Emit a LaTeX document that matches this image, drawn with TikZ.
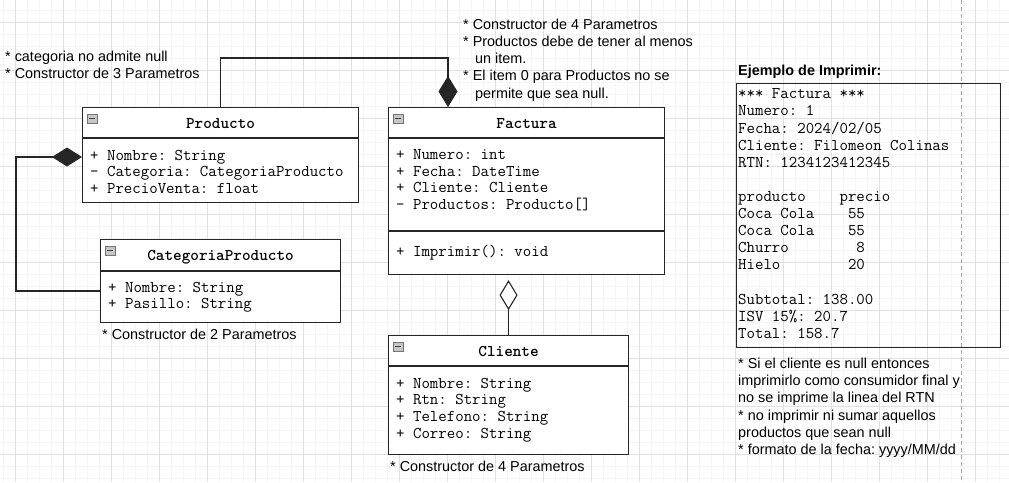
\documentclass[tikz,border=0pt]{standalone}
\usepackage{fontspec}
\setmainfont{Liberation Sans}
\usetikzlibrary{arrows.meta}
\frenchspacing

\begin{document}
\begin{tikzpicture}[x=1pt, y=-1pt,
    umlbox/.style={draw=black!85, line width=1.1pt, fill=white, anchor=north west, inner sep=0pt},
    ctitle/.style={font=\ttfamily\bfseries\fontsize{16.4}{17}\selectfont, anchor=base, inner sep=0pt},
    attr/.style={font=\ttfamily\frenchspacing\fontsize{16.4}{17}\selectfont, anchor=base west, inner sep=0pt},
    note/.style={font=\frenchspacing\fontsize{14.4}{17.3}\selectfont, anchor=base west, inner sep=0pt},
    minbox/.style={draw=black!55, fill=black!22, line width=0.6pt, minimum width=10pt, minimum height=9pt,
      inner sep=0pt, anchor=north west, xshift=5pt, yshift=-7pt,
      path picture={\draw[black!75, line width=1pt] ([xshift=2pt]path picture bounding box.west)
        -- ([xshift=-2pt]path picture bounding box.east);}},
    link/.style={draw=black!85, line width=1.1pt},
  ]
  \useasboundingbox (0,0) rectangle (1009,482);
  % Grid
  \foreach \g in {3,15,...,1009} \draw[black!4, line width=0.6pt] (\g,0) -- (\g,482);
  \foreach \g in {10,22,...,482} \draw[black!4, line width=0.6pt] (0,\g) -- (1009,\g);
  \foreach \g in {15,63,...,1009} \draw[black!12, line width=0.6pt] (\g,0) -- (\g,482);
  \foreach \g in {22,70,...,482} \draw[black!12, line width=0.6pt] (0,\g) -- (1009,\g);
  \draw[black!35, dash pattern=on 4pt off 3pt] (961,0) -- (961,482);

  % Classes
  \node[umlbox, minimum width=276pt, minimum height=95pt] (prod) at (82,107) {};
  \node[umlbox, minimum width=276pt, minimum height=167pt] (fac) at (388,107) {};
  \node[umlbox, minimum width=240pt, minimum height=83pt] (catp) at (100,239) {};
  \node[umlbox, minimum width=240pt, minimum height=119pt] (cli) at (388,335) {};

  \draw[link] (prod.north west) ++(0,31) -- ++(276,0);
  \draw[link] (fac.north west) ++(0,31) -- ++(276,0);
  \draw[link] (fac.north west) ++(0,124) -- ++(276,0);
  \draw[link] (catp.north west) ++(0,32) -- ++(240,0);
  \draw[link] (cli.north west) ++(0,31) -- ++(240,0);

  \node[minbox] (prodm) at (prod.north west) {};
  \node[minbox] (facm) at (fac.north west) {};
  \node[minbox] (catpm) at (catp.north west) {};
  \node[minbox] (clim) at (cli.north west) {};

  \node[ctitle] (prodt) at ([yshift=-21.5pt]prod.north) {Producto};
  \node[ctitle] (fact) at ([yshift=-21.5pt]fac.north) {Factura};
  \node[ctitle] (catpt) at ([yshift=-21pt]catp.north) {CategoriaProducto};
  \node[ctitle] (clit) at ([yshift=-21pt]cli.north) {Cliente};

  % Attributes
  \foreach \lbl [count=\i] in {+ Nombre: String, - Categoria: CategoriaProducto, + PrecioVenta: float}
    \node[attr] (prod-a\i) at (90,{160+16.5*(\i-1)}) {\lbl};
  \foreach \lbl [count=\i] in {+ Numero: int, + Fecha: DateTime, + Cliente: Cliente, - Productos: Producto[]}
    \node[attr] (fac-a\i) at (396,{159.5+16.7*(\i-1)}) {\lbl};
  \node[attr] (fac-m1) at (396,256.5) {+ Imprimir(): void};
  \foreach \lbl [count=\i] in {+ Nombre: String, + Pasillo: String}
    \node[attr] (catp-a\i) at (108,{292+16.5*(\i-1)}) {\lbl};
  \foreach \lbl [count=\i] in {+ Nombre: String, + Rtn: String, + Telefono: String, + Correo: String}
    \node[attr] (cli-a\i) at (396,{388+16.7*(\i-1)}) {\lbl};

  % Connectors
  \coordinate (facin) at ([xshift=60pt]fac.north west);
  \coordinate (prodin) at ([yshift=-50pt]prod.north west);
  \coordinate (catout) at ([yshift=-52pt]catp.north west);
  \draw[link, -{Diamond[length=31pt, width=19pt]}] (prod.north) -- ++(0,-49) -| (facin);
  \draw[link, -{Diamond[length=30pt, width=19pt]}] (catout) -- ++(-84,0) |- (prodin);
  \draw[link, -{Diamond[length=30pt, width=18pt, fill=white]}, shorten >=5pt] (cli.north) -- (cli.north |- fac.south);

  % Notes
  \foreach \lbl [count=\i] in {* categoria no admite null, * Constructor de 3 Parametros}
    \node[note] (prod-n\i) at (5,{61+17.5*(\i-1)}) {\lbl};
  \foreach \nx/\lbl [count=\i] in {463/{* Constructor de 4 Parametros}, 463/{* Productos debe de tener al menos},
      475/{un item.}, 463/{* El item 0 para Productos no se}, 475/{permite que sea null.}}
    \node[note] (fac-n\i) at (\nx,{29+17.3*(\i-1)}) {\lbl};
  \node[note] (catp-n1) at (102,339) {* Constructor de 2 Parametros};
  \node[note] (cli-n1) at (390,471) {* Constructor de 4 Parametros};

  % Ejemplo de Imprimir
  \node[note, font=\bfseries\fontsize{14.4}{17.3}\selectfont] (ejt) at (738,75) {Ejemplo de Imprimir:};
  \node[draw=black!85, line width=1.1pt, anchor=north west, inner sep=0pt,
    minimum width=264pt, minimum height=264pt] (recibo) at (736,83) {};
  \foreach \lbl [count=\i] in {*** Factura ***, Numero: 1, Fecha: 2024/02/05, Cliente: Filomeon Colinas, RTN: 1234123412345}
    \node[attr] (rec-h\i) at (738,{98.8+17.12*(\i-1)}) {\lbl};
  \foreach \lbl [count=\i] in {producto~~~~precio, Coca Cola~~~~55, Coca Cola~~~~55, Churro~~~~~~~~8, Hielo~~~~~~~~20}
    \node[attr] (rec-p\i) at (738,{201.5+17.12*(\i-1)}) {\lbl};
  \foreach \lbl [count=\i] in {Subtotal: 138.00, ISV 15\%: 20.7, Total: 158.7}
    \node[attr] (rec-t\i) at (738,{304.2+17.12*(\i-1)}) {\lbl};
  \foreach \lbl [count=\i] in {* Si el cliente es null entonces, imprimirlo como consumidor final y,
      no se imprime la linea del RTN, * no imprimir ni sumar aquellos, productos que sean null,
      {* formato de la fecha: yyyy/MM/dd}}
    \node[note] (rec-n\i) at (738,{368.3+17.3*(\i-1)}) {\lbl};
\end{tikzpicture}
\end{document}
